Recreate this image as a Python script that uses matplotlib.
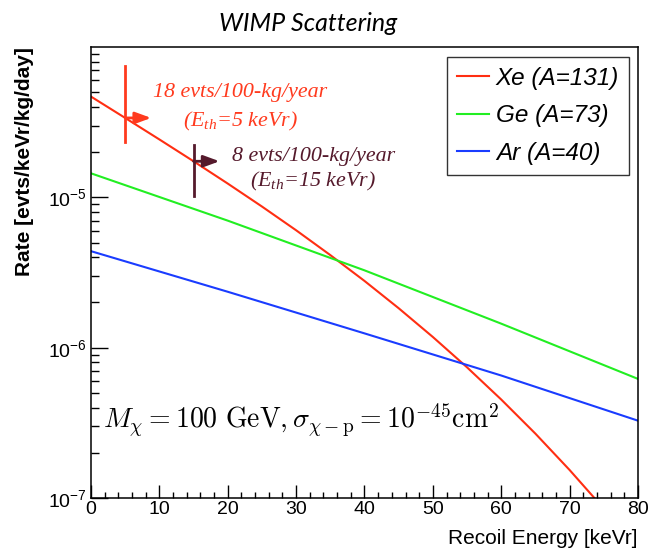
import matplotlib
matplotlib.use("Agg")
import matplotlib.pyplot as plt
from matplotlib.ticker import FixedLocator, LogLocator, NullFormatter, MultipleLocator

# Differential WIMP recoil spectra for three targets
energy_xe = [0, 5, 10, 15, 20, 25, 30, 35, 40, 45, 50, 55, 60, 65, 70, 75]
rate_xe = [4.68e-5, 3.375e-5, 2.428e-5, 1.738e-5, 1.235e-5, 8.69e-6, 6.04e-6, 4.13e-6,
           2.78e-6, 1.83e-6, 1.178e-6, 7.40e-7, 4.52e-7, 2.68e-7, 1.536e-7, 8.5e-8]

energy_ge = [0, 20, 40, 60, 80]
rate_ge = [1.445e-5, 7.0e-6, 3.27e-6, 1.445e-6, 6.2e-7]

energy_ar = [0, 20, 40, 60, 80]
rate_ar = [4.385e-6, 2.355e-6, 1.245e-6, 6.53e-7, 3.27e-7]

series_labels = ["Xe (A=131)", "Ge (A=73)", "Ar (A=40)"]
series_colors = ["#ff2e12", "#22ee22", "#1a3cff"]

# Xe threshold markers
thresholds = [5, 15]
threshold_rates = [3.375e-5, 1.738e-5]
marker_low = [2.33e-5, 1.02e-5]
marker_high = [7.47e-5, 2.22e-5]
marker_colors = ["#ff3a1e", "#551a2c"]
counts = ["18 evts/100-kg/year", "8 evts/100-kg/year"]
label_x = [21.8, 32.5]
label_y1 = [5.0e-5, 1.88e-5]
label_y2 = [3.21e-5, 1.28e-5]

plt.rcParams['mathtext.fontset'] = 'custom'
plt.rcParams['mathtext.rm'] = 'Liberation Serif:italic'
plt.rcParams['mathtext.it'] = 'Liberation Serif:italic'
plt.rcParams['font.family'] = 'Liberation Sans'

fig = plt.figure(figsize=(6.51, 5.5), dpi=100)
ax = fig.add_axes([0.1398, 0.0945, 0.8402, 0.82])

for xs, ys, lab, col in zip([energy_xe, energy_ge, energy_ar],
                            [rate_xe, rate_ge, rate_ar],
                            series_labels, series_colors):
    ax.plot(xs, ys, color=col, lw=1.5, label=lab)

ax.set_yscale('log')
ax.set_xlim(0, 80)
ax.set_ylim(1e-7, 1e-4)

for i in range(len(thresholds)):
    e = thresholds[i]
    c = marker_colors[i]
    ax.plot([e, e], [marker_low[i], marker_high[i]], color=c, lw=2)
    ax.annotate("", xy=(e + 3.8, threshold_rates[i]), xytext=(e, threshold_rates[i]),
                arrowprops=dict(arrowstyle="-|>,head_length=0.6,head_width=0.22", color=c,
                                lw=2, mutation_scale=16, shrinkA=0, shrinkB=0))
    ax.text(label_x[i], label_y1[i], counts[i], color=c, fontsize=15.8,
            family='Liberation Serif', style='italic', ha='center', va='center')
    ax.text(label_x[i], label_y2[i], "(E$_{th}$=%d keVr)" % e, color=c, fontsize=15.8,
            family='Liberation Serif', style='italic', ha='center', va='center')

ax.text(1.8, 3.3e-7,
        r"$M_\chi = 100\ \mathrm{GeV}, \sigma_{\chi-\mathrm{p}} = 10^{-45}\mathrm{cm}^2$",
        fontsize=20, math_fontfamily='cm', ha='left', va='center')

# axis styling
for sp in ax.spines.values():
    sp.set_linewidth(1.1)
ax.xaxis.set_major_locator(MultipleLocator(10))
ax.xaxis.set_minor_locator(MultipleLocator(2))
ax.yaxis.set_major_locator(FixedLocator([1e-7, 1e-6, 1e-5]))
ax.yaxis.set_minor_locator(LogLocator(base=10, subs=range(2, 10)))
ax.yaxis.set_minor_formatter(NullFormatter())
ax.tick_params(axis='both', which='both', direction='in', top=False, right=False,
               labelsize=14, width=1)
ax.tick_params(axis='x', which='major', length=9.5, pad=2)
ax.tick_params(axis='x', which='minor', length=4.5)
ax.tick_params(axis='y', which='major', length=12.5, pad=3)
ax.tick_params(axis='y', which='minor', length=6)

ax.set_xlabel("Recoil Energy [keVr]", fontsize=15, loc='right', labelpad=8)
ax.set_ylabel("Rate [evts/keVr/kg/day]", fontsize=15, fontweight='bold',
              loc='top', labelpad=10)

leg = ax.legend(loc='upper right', bbox_to_anchor=(0.9835, 0.978), borderaxespad=0,
                prop=dict(family='Liberation Sans', style='italic', size=17.5),
                handlelength=1.3, handletextpad=0.3, labelspacing=0.6,
                borderpad=0.4, fancybox=False, framealpha=1)
leg.get_frame().set_edgecolor('#333333')
leg.get_frame().set_linewidth(1)

fig.text(0.473, 0.958, "WIMP Scattering", family='Lato', style='italic',
         fontsize=18, ha='center', va='center')

fig.savefig("out.png", dpi=100)
